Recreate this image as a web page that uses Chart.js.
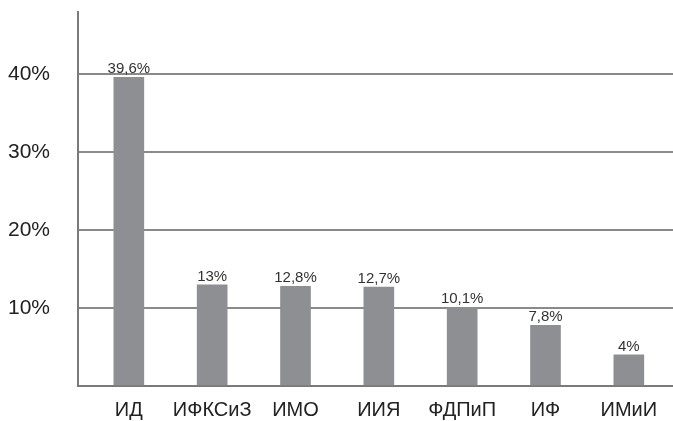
<!DOCTYPE html>
<html>
<head>
<meta charset="utf-8">
<script src="https://cdn.jsdelivr.net/npm/chart.js@4"></script>
<style>
  html, body { margin: 0; padding: 0; background: #fff; }
  #wrap { width: 673px; height: 421px; }
</style>
</head>
<body>
<div id="wrap"><canvas id="c" width="673" height="421"></canvas></div>
<script>
// Институты и доли (%)
const categories = ['ИД', 'ИФКСиЗ', 'ИМО', 'ИИЯ', 'ФДПиП', 'ИФ', 'ИМиИ'];
const shares = [39.6, 13, 12.8, 12.7, 10.1, 7.8, 4];
const yTicks = [10, 20, 30, 40];

const FONT = '"Liberation Sans", Arial, sans-serif';
const fmt = v => String(v).replace('.', ',') + '%';

// Подписи значений над столбцами
const valueLabels = {
  id: 'valueLabels',
  afterDatasetsDraw(chart) {
    const ctx = chart.ctx;
    const meta = chart.getDatasetMeta(0);
    ctx.save();
    ctx.font = '15px ' + FONT;
    ctx.fillStyle = '#333';
    ctx.textAlign = 'center';
    ctx.textBaseline = 'alphabetic';
    meta.data.forEach((bar, i) => {
      ctx.fillText(fmt(shares[i]), bar.x, bar.y - 4);
    });
    ctx.restore();
  }
};

new Chart(document.getElementById('c'), {
  type: 'bar',
  data: {
    datasets: [{
      data: shares.map((v, i) => ({ x: i, y: v })),
      backgroundColor: '#8e8f93',
      borderWidth: 0,
      barThickness: 30
    }]
  },
  options: {
    responsive: false,
    animation: false,
    layout: { padding: { top: 12, right: 0, left: 0, bottom: 0 } },
    plugins: { legend: { display: false }, tooltip: { enabled: false } },
    scales: {
      x: {
        type: 'linear',
        offset: false,
        min: -0.61,
        max: 6.53,
        grid: { display: false, drawTicks: false, offset: false },
        border: { display: true, color: '#7a7a7a', width: 2 },
        afterBuildTicks: s => { s.ticks = categories.map((_, i) => ({ value: i })); },
        afterFit: s => { s.height = 35; s.paddingLeft = 0; s.paddingRight = 0; },
        ticks: {
          autoSkip: false,
          maxRotation: 0,
          padding: 12,
          color: '#222',
          font: { family: FONT, size: 20 },
          callback: v => categories[v] ?? ''
        }
      },
      y: {
        min: 0,
        max: 48,
        grid: { color: '#8a8a8a', lineWidth: 2, drawTicks: false },
        border: { display: true, color: '#7a7a7a', width: 2 },
        afterBuildTicks: s => { s.ticks = [0, ...yTicks].map(v => ({ value: v })); },
        afterFit: s => { s.width = 78; s.paddingTop = 0; s.paddingBottom = 0; },
        ticks: {
          padding: 28,
          color: '#222',
          font: { family: FONT, size: 21 },
          callback: v => (v === 0 ? '' : v + '%')
        }
      }
    }
  },
  plugins: [valueLabels]
});
</script>
</body>
</html>
